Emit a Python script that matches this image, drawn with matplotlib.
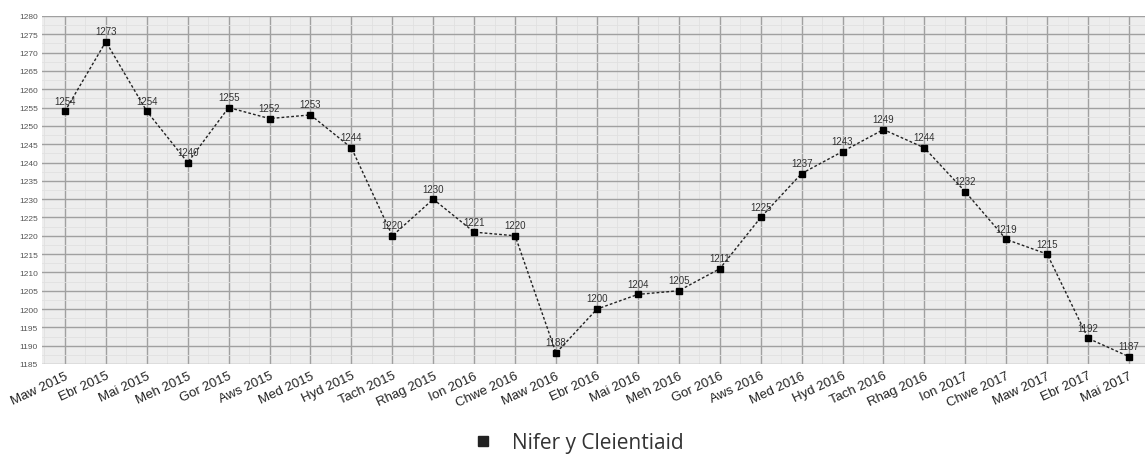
import matplotlib
matplotlib.use("Agg")
import matplotlib.pyplot as plt
from matplotlib.lines import Line2D
import numpy as np

months = ["Maw 2015", "Ebr 2015", "Mai 2015", "Meh 2015", "Gor 2015", "Aws 2015",
          "Med 2015", "Hyd 2015", "Tach 2015", "Rhag 2015", "Ion 2016", "Chwe 2016",
          "Maw 2016", "Ebr 2016", "Mai 2016", "Meh 2016", "Gor 2016", "Aws 2016",
          "Med 2016", "Hyd 2016", "Tach 2016", "Rhag 2016", "Ion 2017", "Chwe 2017",
          "Maw 2017", "Ebr 2017", "Mai 2017"]
clients = [1254, 1273, 1254, 1240, 1255, 1252, 1253, 1244, 1220, 1230, 1221, 1220,
           1188, 1200, 1204, 1205, 1211, 1225, 1237, 1243, 1249, 1244, 1232, 1219,
           1215, 1192, 1187]
y_ticks = list(range(1185, 1281, 5))
series_name = "Nifer y Cleientiaid"

fig = plt.figure(figsize=(11.45, 4.56), dpi=100)
ax = fig.add_axes([42/1145, 1-365/456, 1103/1145, 348/456])
ax.set_facecolor("#ededed")

x = np.arange(len(months))
ax.plot(x, clients, color="#222222", linestyle=(0, (2, 1.5)), linewidth=1.0,
        marker="s", markersize=5, markerfacecolor="black", markeredgecolor="black", zorder=3)
for xi, v in zip(x, clients):
    ax.annotate(str(v), (xi, v), xytext=(0, 4), textcoords="offset points",
                ha="center", va="bottom", fontsize=7, color="#333333",
                family="Liberation Sans", zorder=4)

ax.set_xlim(-0.56, 26.39)
ax.set_ylim(1185, 1280)
ax.set_yticks(y_ticks)
ax.set_yticklabels([str(t) for t in y_ticks], fontsize=6, color="#555555", family="Liberation Sans")
ax.set_yticks(np.arange(1185, 1280, 2.5), minor=True)
ax.set_xticks(x)
ax.set_xticklabels(months, rotation=25, ha="right", rotation_mode="anchor",
                   fontsize=9.5, color="#222222", family="Liberation Sans")
ax.set_xticks(np.arange(-0.5, 26.5, 1.0), minor=True)
ax.tick_params(axis="both", which="both", length=0, pad=3)
ax.tick_params(axis="x", pad=4)

ax.grid(True, which="major", axis="both", color="#a0a0a0", linewidth=1.0, zorder=1)
ax.grid(True, which="minor", axis="both", color="#e0e0e0", linewidth=0.6, zorder=1)
ax.set_axisbelow(True)
for s in ax.spines.values():
    s.set_visible(False)

handle = Line2D([], [], linestyle="none", marker="s", markersize=7,
                markerfacecolor="#222222", markeredgecolor="#222222")
fig.legend([handle], [series_name], loc="center", bbox_to_anchor=(0.5, 1-444/456),
           frameon=False, prop={"family": "Open Sans", "size": 15},
           handletextpad=0.4, labelcolor="#333333")

fig.savefig("out.png", dpi=100, facecolor="white")
